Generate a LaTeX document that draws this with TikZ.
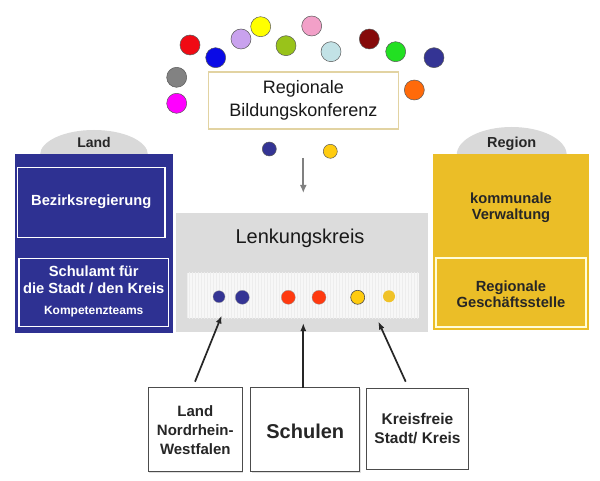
\documentclass[tikz,border=0pt]{standalone}
\usepackage{fontspec}
\setmainfont{Liberation Sans}
\usetikzlibrary{arrows.meta,shadows}
\definecolor{navyblk}{HTML}{2E3192}
\definecolor{goldblk}{HTML}{EBBE27}
\definecolor{ellgray}{HTML}{D9D9D9}
\definecolor{centgray}{HTML}{DCDCDC}
\definecolor{tanline}{HTML}{E2D3A2}
\definecolor{cRed}{HTML}{F00A14}
\definecolor{cBlue}{HTML}{0A0AE6}
\definecolor{cGrey}{HTML}{828282}
\definecolor{cMag}{HTML}{FF00FF}
\definecolor{cLilac}{HTML}{C9A2EE}
\definecolor{cYel}{HTML}{FFFF00}
\definecolor{cYG}{HTML}{99C31A}
\definecolor{cPink}{HTML}{F2A0C8}
\definecolor{cLBlue}{HTML}{C2E2E6}
\definecolor{cDRed}{HTML}{850A0A}
\definecolor{cGreen}{HTML}{22E022}
\definecolor{cNavy}{HTML}{343494}
\definecolor{cOrange}{HTML}{FF6A0A}
\definecolor{cGold}{HTML}{FFCC10}
\definecolor{cGold2}{HTML}{F0C228}
\definecolor{cRed2}{HTML}{FF3A10}
\begin{document}
\begin{tikzpicture}[x=1pt,y=-1pt,
  dot/.style={circle,draw=black!65,line width=0.5pt,inner sep=0pt,minimum size=20pt},
  sdot/.style={dot,minimum size=14pt},
  ldot/.style={circle,inner sep=0pt,minimum size=13pt,draw=black!40,line width=0.3pt},
  wtext/.style={text=white,font=\bfseries\fontsize{14.7}{16.3}\selectfont,align=center},
  btext/.style={text=black!85,font=\bfseries\fontsize{14.7}{16.3}\selectfont,align=center},
  botbox/.style={draw=black!70,line width=1pt,fill=white,drop shadow={shadow xshift=1pt,shadow yshift=-1pt,opacity=0.25}},
  uparrow/.style={-{Latex[length=8pt,width=6pt]},line width=1.7pt,black!85}
]
\useasboundingbox (0,0) rectangle (600,481);
\fill[white] (0,0) rectangle (600,481);

% top coloured circles
\node[dot,fill=cRed]    (c1)  at (190,45) {};
\node[dot,fill=cBlue]   (c2)  at (215.7,57.7) {};
\node[dot,fill=cGrey]   (c3)  at (176.7,77.3) {};
\node[dot,fill=cMag]    (c4)  at (176.7,103.3) {};
\node[dot,fill=cLilac]  (c5)  at (241,39) {};
\node[dot,fill=cYel]    (c6)  at (260.7,26.7) {};
\node[dot,fill=cYG]     (c7)  at (286,45.7) {};
\node[dot,fill=cPink]   (c8)  at (311.7,26) {};
\node[dot,fill=cLBlue]  (c9)  at (331,51.7) {};
\node[dot,fill=cDRed]   (c10) at (369.3,39) {};
\node[dot,fill=cGreen]  (c11) at (395.7,51.7) {};
\node[dot,fill=cNavy]   (c12) at (434,57.7) {};
\node[dot,fill=cOrange] (c13) at (414.3,90) {};

% Regionale Bildungskonferenz
\node[draw=tanline,line width=1.5pt,fill=white,minimum width=190pt,minimum height=57pt,
      font=\fontsize{18}{22.5}\selectfont,text=black!90,align=center] (rbk) at (303.3,100.3) {Regionale\\Bildungskonferenz};
\node[sdot,fill=cNavy] (s1) at (269.3,149) {};
\node[sdot,fill=cGold] (s2) at (330.3,151.3) {};

% Land block
\fill[ellgray] (94,155) ellipse [x radius=54, y radius=25];
\node[fill=navyblk,minimum width=158pt,minimum height=179pt,inner sep=0pt] (land) at (94,243.5) {};
\node[font=\bfseries\fontsize{14}{16}\selectfont,text=black!85] (landlbl) at (94,142.5) {Land};
\node[draw=white,line width=1.5pt,minimum width=147.7pt,minimum height=70pt,inner sep=0pt] (bez) at (91.2,202.7) {};
\node[wtext] (beztext) at (91.2,201.5) {Bezirksregierung};
\node[draw=white,line width=1.5pt,minimum width=149.3pt,minimum height=68.4pt,inner sep=0pt] (schul) at (93.7,292.5) {};
\node[wtext] (schultext) at (93.7,291.5) {Schulamt für\\die Stadt / den Kreis\\[5pt]{\fontsize{12}{14}\selectfont Kompetenzteams}};

% Region block
\fill[ellgray] (511.7,155) ellipse [x radius=55, y radius=28];
\node[fill=goldblk,minimum width=156.6pt,minimum height=176pt,inner sep=0pt] (region) at (511,242.2) {};
\node[font=\bfseries\fontsize{14.5}{16}\selectfont,text=black!85] (reglbl) at (511.7,143.3) {Region};
\node[btext] (komm) at (511,207.5) {kommunale\\Verwaltung};
\node[draw=white!85!yellow,line width=2pt,minimum width=150pt,minimum height=69pt,inner sep=0pt] (gs) at (511,292.2) {};
\node[btext] (gstext) at (511,294.5) {Regionale\\Geschäftsstelle};

% Lenkungskreis
\node[fill=centgray,minimum width=252pt,minimum height=119pt,inner sep=0pt] (lk) at (302,272.5) {};
\node[font=\fontsize{20}{24}\selectfont,text=black!90] (lktext) at (300,238.3) {Lenkungskreis};
\begin{scope}
  \clip (187.3,272.7) rectangle (419.3,318.3);
  \fill[white!97!black] (187.3,272.7) rectangle (419.3,318.3);
  \draw[black!7,line width=0.35pt,step=3] (186,271) grid (421,320);
\end{scope}
\node[inner sep=0pt,minimum width=232pt,minimum height=45.6pt] (panel) at (303.3,295.5) {};
\node[ldot,fill=cNavy,minimum size=12pt] (d1) at (219,296.7) {};
\node[ldot,fill=cNavy,minimum size=14pt] (d2) at (242.3,297.3) {};
\node[ldot,fill=cRed2,minimum size=14pt] (d3) at (288.3,297.3) {};
\node[ldot,fill=cRed2,minimum size=14pt] (d4) at (319,297.3) {};
\node[ldot,fill=cGold,draw=black!70,line width=0.6pt,minimum size=14pt] (d5) at (357.7,297.3) {};
\node[ldot,fill=cGold2,draw=none,minimum size=12pt] (d6) at (389,296.3) {};

% arrow from conference to Lenkungskreis
\coordinate (ga1) at (303.3,158);
\coordinate (ga2) at (303.3,193);
\draw[-{Latex[length=8pt,width=7pt]},line width=2.2pt,black!50] (ga1) -- (ga2);

% bottom boxes
\node[botbox,minimum width=94pt,minimum height=84pt,inner sep=0pt] (nrw) at (195.3,429.7) {};
\node[btext,font=\bfseries\fontsize{15}{19}\selectfont] (nrwtext) at (195.3,430.5) {Land\\Nordrhein-\\Westfalen};
\node[botbox,minimum width=109.3pt,minimum height=84pt,inner sep=0pt] (sch) at (305.3,429.7) {};
\node[btext,font=\bfseries\fontsize{20}{24}\selectfont] (schtext) at (305.3,431.5) {Schulen};
\node[botbox,minimum width=101.6pt,minimum height=80.7pt,inner sep=0pt] (kfs) at (417.5,428.7) {};
\node[btext,font=\bfseries\fontsize{15.5}{19}\selectfont] (kfstext) at (417.5,428.8) {Kreisfreie\\Stadt/ Kreis};

% arrows up
\coordinate (a1s) at (195,381.7);
\coordinate (a1e) at (221.7,315.5);
\coordinate (a2s) at (303.3,388);
\coordinate (a2e) at (303.3,323);
\coordinate (a3s) at (405.7,381.7);
\coordinate (a3e) at (378.3,321.5);
\draw[uparrow] (a1s) -- (a1e);
\draw[uparrow] (a2s) -- (a2e);
\draw[uparrow] (a3s) -- (a3e);
\end{tikzpicture}
\end{document}
